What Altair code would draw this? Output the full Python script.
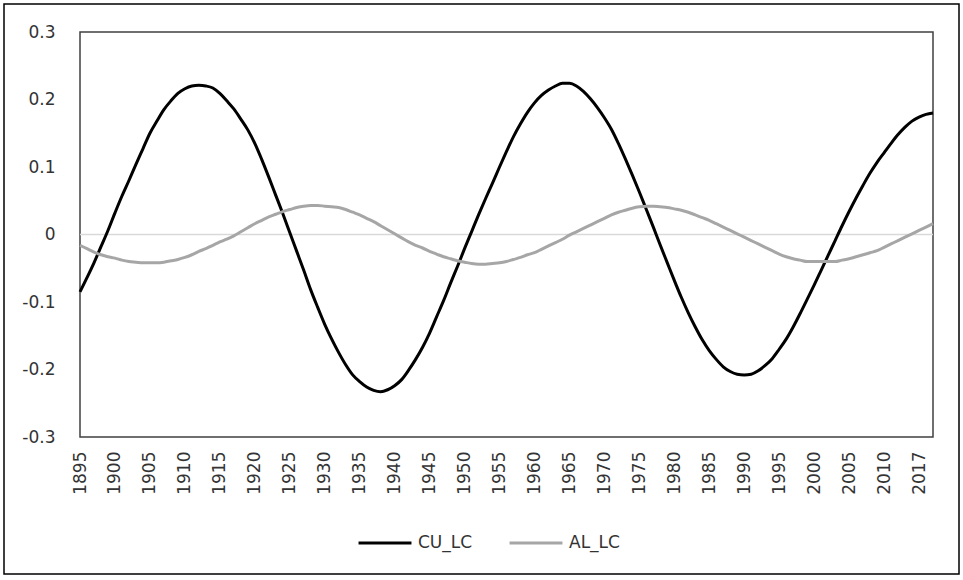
import altair as alt
import pandas as pd

# ---- data ----
years = [
    1895, 1896, 1897, 1898, 1899, 1900, 1901, 1902, 1903, 1904,
    1905, 1906, 1907, 1908, 1909, 1910, 1911, 1912, 1913, 1914,
    1915, 1916, 1917, 1918, 1919, 1920, 1921, 1922, 1923, 1924,
    1925, 1926, 1927, 1928, 1929, 1930, 1931, 1932, 1933, 1934,
    1935, 1936, 1937, 1938, 1939, 1940, 1941, 1942, 1943, 1944,
    1945, 1946, 1947, 1948, 1949, 1950, 1951, 1952, 1953, 1954,
    1955, 1956, 1957, 1958, 1959, 1960, 1961, 1962, 1963, 1964,
    1965, 1966, 1967, 1968, 1969, 1970, 1971, 1972, 1973, 1974,
    1975, 1976, 1977, 1978, 1979, 1980, 1981, 1982, 1983, 1984,
    1985, 1986, 1987, 1988, 1989, 1990, 1991, 1992, 1993, 1994,
    1995, 1996, 1997, 1998, 1999, 2000, 2001, 2002, 2003, 2004,
    2005, 2006, 2007, 2008, 2009, 2010, 2013, 2014, 2015, 2016,
    2017, 2018, 2019,
]

cu_lc = [
    -0.085, -0.064, -0.042, -0.018, 0.006, 0.032, 0.057, 0.080, 0.104, 0.127,
    0.150, 0.168, 0.185, 0.198, 0.209, 0.216, 0.220, 0.221, 0.220, 0.217,
    0.209, 0.198, 0.186, 0.171, 0.155, 0.135, 0.111, 0.085, 0.058, 0.031,
    0.003, -0.025, -0.053, -0.082, -0.108, -0.133, -0.155, -0.175, -0.193, -0.208,
    -0.218, -0.226, -0.231, -0.233, -0.230, -0.224, -0.215, -0.201, -0.185, -0.167,
    -0.146, -0.122, -0.098, -0.072, -0.047, -0.021, 0.004, 0.029, 0.053, 0.076,
    0.100, 0.123, 0.145, 0.164, 0.181, 0.195, 0.206, 0.214, 0.220, 0.224,
    0.224, 0.220, 0.212, 0.201, 0.188, 0.173, 0.156, 0.135, 0.112, 0.088,
    0.063, 0.037, 0.011, -0.016, -0.042, -0.068, -0.093, -0.116, -0.137, -0.156,
    -0.172, -0.185, -0.196, -0.203, -0.207, -0.208, -0.207, -0.202, -0.194, -0.184,
    -0.170, -0.155, -0.137, -0.117, -0.096, -0.075, -0.053, -0.031, -0.009, 0.013,
    0.034, 0.054, 0.073, 0.091, 0.107, 0.121, 0.135, 0.148, 0.159, 0.168,
    0.174, 0.178, 0.180,
]

al_lc = [
    -0.016, -0.021, -0.026, -0.030, -0.033, -0.035, -0.038, -0.040, -0.041, -0.042,
    -0.042, -0.042, -0.041, -0.039, -0.037, -0.034, -0.030, -0.025, -0.021, -0.016,
    -0.011, -0.007, -0.002, 0.004, 0.010, 0.016, 0.021, 0.026, 0.030, 0.034,
    0.037, 0.040, 0.042, 0.043, 0.043, 0.042, 0.041, 0.040, 0.037, 0.033,
    0.029, 0.024, 0.019, 0.013, 0.007, 0.001, -0.005, -0.011, -0.016, -0.020,
    -0.025, -0.029, -0.033, -0.036, -0.039, -0.041, -0.043, -0.044, -0.044, -0.043,
    -0.042, -0.040, -0.037, -0.034, -0.030, -0.027, -0.022, -0.017, -0.012, -0.007,
    -0.001, 0.004, 0.009, 0.014, 0.019, 0.024, 0.029, 0.033, 0.036, 0.039,
    0.041, 0.042, 0.042, 0.041, 0.040, 0.038, 0.036, 0.033, 0.029, 0.025,
    0.021, 0.016, 0.011, 0.006, 0.001, -0.004, -0.009, -0.014, -0.019, -0.024,
    -0.029, -0.033, -0.036, -0.038, -0.040, -0.040, -0.040, -0.040, -0.040, -0.038,
    -0.036, -0.033, -0.030, -0.027, -0.024, -0.019, -0.014, -0.009, -0.004, 0.001,
    0.006, 0.011, 0.016,
]

x_tick_years = [
    1895, 1900, 1905, 1910, 1915, 1920, 1925, 1930, 1935, 1940, 1945, 1950,
    1955, 1960, 1965, 1970, 1975, 1980, 1985, 1990, 1995, 2000, 2005, 2010, 2017,
]
y_ticks = [-0.3, -0.2, -0.1, 0, 0.1, 0.2, 0.3]
series_names = ["CU_LC", "AL_LC"]
series_colors = ["#000000", "#a6a6a6"]

# ---- table built from the arrays ----
n = len(years)
df = pd.DataFrame({
    "year": years * 2,
    "value": cu_lc + al_lc,
    "series": [series_names[0]] * n + [series_names[1]] * n,
    "order": list(range(n)) * 2,
})
zero_df = pd.DataFrame({"v": [0]})
frame_df = pd.DataFrame({"a": [0]})

FONT = "DejaVu Sans"
W, H = 853, 405

x_enc = alt.X(
    "year:O",
    scale=alt.Scale(type="point", padding=0),
    axis=alt.Axis(
        values=x_tick_years, labelAngle=-90, ticks=False, domain=False,
        grid=False, title=None, labelFont=FONT, labelFontSize=17,
        labelColor="#333333", labelPadding=14,
    ),
)
y_enc = alt.Y(
    "value:Q",
    scale=alt.Scale(domain=[-0.3, 0.3], nice=False, zero=False),
    axis=alt.Axis(
        values=y_ticks, ticks=False, domain=False, grid=False, title=None,
        labelFont=FONT, labelFontSize=17, labelColor="#333333", labelPadding=25,
        labelExpr="datum.value == 0 ? '0' : toString(round(datum.value * 10) / 10)",
    ),
)

zero_line = alt.Chart(zero_df).mark_rule(color="#d9d9d9", strokeWidth=1.5).encode(
    y=alt.Y("v:Q")
)

lines = alt.Chart(df).mark_line(strokeWidth=3, interpolate="monotone").encode(
    x=x_enc,
    y=y_enc,
    color=alt.Color(
        "series:N",
        scale=alt.Scale(domain=series_names, range=series_colors),
        legend=alt.Legend(
            title=None, orient="none", direction="horizontal",
            legendX=277, legendY=483,
            symbolType="stroke", symbolSize=2800, symbolStrokeWidth=3,
            labelFont=FONT, labelFontSize=17, labelColor="#333333",
            labelOffset=5, columnPadding=30,
        ),
    ),
    order=alt.Order("order:Q"),
)

frame = alt.Chart(frame_df).mark_rect(
    fillOpacity=0, stroke="#000000", strokeWidth=1.5
).encode(
    x=alt.value(-76), x2=alt.value(879), y=alt.value(-28), y2=alt.value(542)
)

chart = alt.layer(zero_line, lines, frame).properties(
    width=W, height=H,
    autosize=alt.AutoSizeParams(type="none"),
    padding={"left": 80, "top": 32, "right": 30, "bottom": 143},
    background="white",
).configure_view(
    stroke="#404040", strokeWidth=1.5
)

chart.save("out.html", embed_options={"renderer": "svg", "actions": False})
